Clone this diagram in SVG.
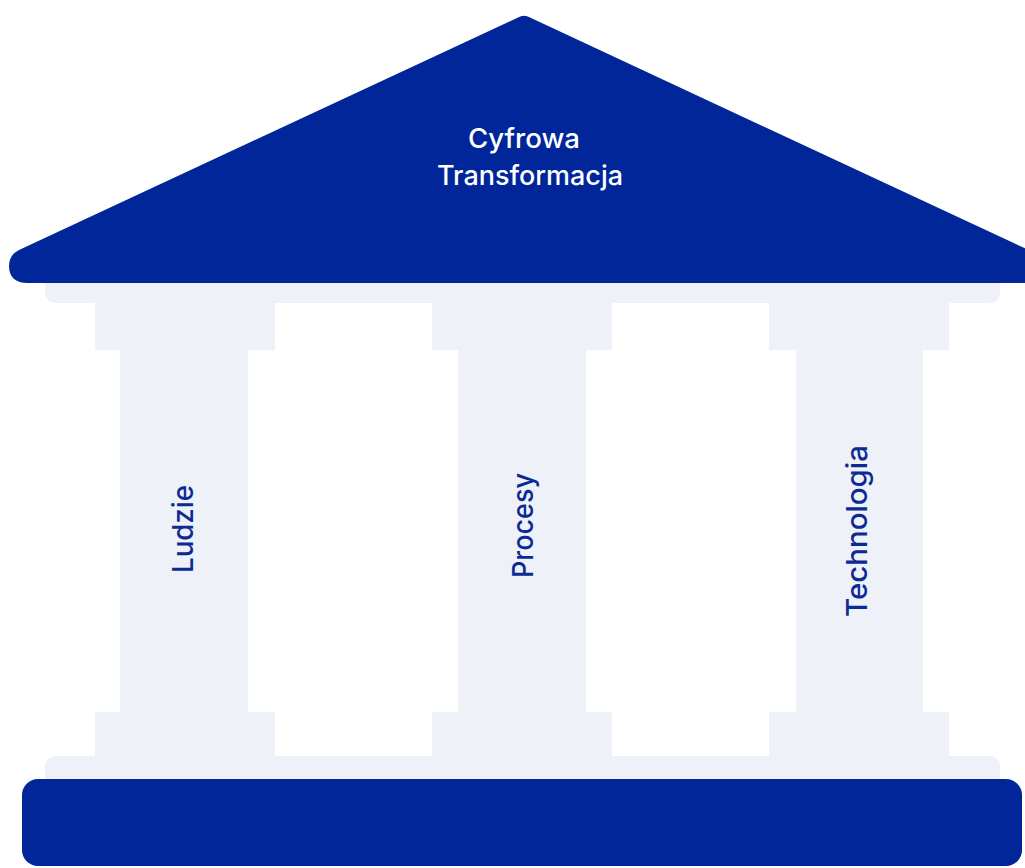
<svg xmlns="http://www.w3.org/2000/svg" width="1025" height="868" viewBox="0 0 1025 868">
<style>
.light{fill:#EEF1F8}
.blue{fill:#00269A}
.roof-t{font-family:Inter,"Liberation Sans",sans-serif;font-size:27px;font-weight:500;fill:#FFFFFF;text-anchor:middle}
.col-t{font-family:Inter,"Liberation Sans",sans-serif;font-size:28px;font-weight:500;fill:#0B2A94;text-anchor:middle}
</style>
<rect x="0" y="0" width="1025" height="868" fill="#FFFFFF"/>
<g id="upper-band"><rect class="light" x="45" y="270" width="955" height="33" rx="10"/></g>
<g id="lower-band"><rect class="light" x="45" y="756" width="955" height="40" rx="10"/></g>
<g id="col-ludzie">
<path class="light" d="M95 303H275V350H248V712H275V756H95V712H120V350H95Z"/>
<text class="col-t" transform="translate(193 529) rotate(-90)" textLength="88" lengthAdjust="spacingAndGlyphs">Ludzie</text>
</g>
<g id="col-procesy">
<path class="light" d="M432 303H612V350H586V712H612V756H432V712H458V350H432Z"/>
<text class="col-t" transform="translate(533 525.5) rotate(-90)" textLength="105" lengthAdjust="spacingAndGlyphs">Procesy</text>
</g>
<g id="col-technologia">
<path class="light" d="M769 303H949V350H923V712H949V756H769V712H796V350H769Z"/>
<text class="col-t" transform="translate(867 531) rotate(-90)" textLength="172" lengthAdjust="spacingAndGlyphs">Technologia</text>
</g>
<g id="roof">
<path class="blue" d="M518 17.5Q524 14 530 17.5L1050 260V283H28Q9 283 9 266Q9 255 19 250Z"/>
<text class="roof-t" x="524" y="148" textLength="112" lengthAdjust="spacingAndGlyphs">Cyfrowa</text>
<text class="roof-t" x="530" y="185" textLength="186" lengthAdjust="spacingAndGlyphs">Transformacja</text>
</g>
<g id="foundation"><rect class="blue" x="22" y="779" width="1000" height="87" rx="16"/></g>
<g id="connectors"></g>
</svg>
